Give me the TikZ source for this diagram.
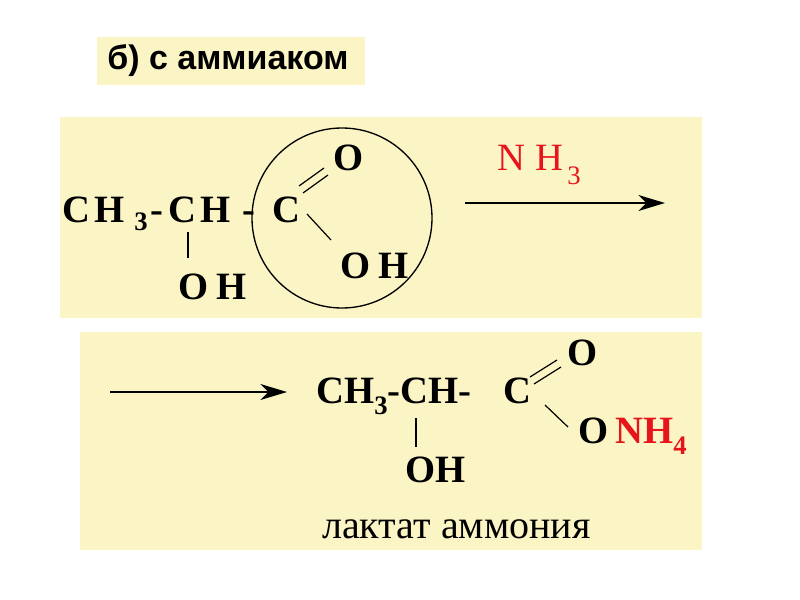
\documentclass[tikz,border=0pt]{standalone}
\usepackage{fontspec}
\setmainfont{Liberation Serif}
\newfontfamily\arialb{Liberation Sans}
\usetikzlibrary{arrows.meta}
\definecolor{panel}{HTML}{FBF5C6}
\definecolor{chemred}{HTML}{E8141B}
\tikzset{
 px/.style={x=0.75pt,y=-0.75pt},
 pan/.style={fill=panel,draw=none},
 ch/.style={font=\fontsize{29}{29}\selectfont\bfseries,inner sep=0,anchor=base west},
 chs/.style={font=\fontsize{20}{20}\selectfont\bfseries,inner sep=0,anchor=base west},
 bond/.style={line width=0.9pt},
 arr/.style={line width=1.5pt,-{Stealth[length=20pt,width=12pt,inset=6pt]}}
}
\begin{document}
\begin{tikzpicture}[px]
\useasboundingbox (0,0) rectangle (800,600);
\fill[white] (0,0) rectangle (800,600);
\node[pan,minimum width=268*0.75pt,minimum height=48*0.75pt,anchor=north west,inner sep=0] (title) at (97,37) {};
\node[font=\arialb\fontsize{25.5}{25.5}\selectfont\bfseries,anchor=west,inner sep=0] (tt) at (107,61) {б) с аммиаком};
\fill[panel] (60,117) rectangle (702,318);
\fill[panel] (80,332) rectangle (702,550);
% panel 1
\node[ch] (c1) at (62,222) {C};
\node[ch] (h1) at (94,222) {H};
\node[chs] (s1) at (134,230) {3};
\node[ch] (d1) at (150,222) {-};
\node[ch] (c2) at (168,222) {C};
\node[ch] (h2) at (200,222) {H};
\node[ch] (d2) at (242,222) {-};
\node[ch] (c3) at (272,222) {C};
\node[ch] (o1) at (333,170) {O};
\node[ch] (o2) at (340,278) {O};
\node[ch] (h3) at (378,278) {H};
\node[ch] (o3) at (178,299) {O};
\node[ch] (h4) at (216,299) {H};
\coordinate (v1a) at (188,232); \coordinate (v1b) at (188,258);
\draw[bond] (v1a) -- (v1b);
\draw[bond] (299,186) -- (324,168);
\draw[bond] (303,193) -- (328,175);
\draw[bond] (307,214) -- (331,240);
\draw[line width=1pt] (342,218) circle[radius=90*0.75pt];
\node[ch,text=chemred,font=\fontsize{29}{29}\selectfont] (n1) at (497,170) {N};
\node[ch,text=chemred,font=\fontsize{29}{29}\selectfont] (n2) at (535,170) {H};
\node[chs,text=chemred,font=\fontsize{20}{20}\selectfont] (n3) at (567,184) {3};
\coordinate (a1s) at (465,203); \coordinate (a1e) at (665,203);
\draw[arr] (a1s) -- (a1e);
% panel 2
\coordinate (a2s) at (110,392); \coordinate (a2e) at (287,392);
\draw[arr] (a2s) -- (a2e);
\node[ch] (f1) at (316,403) {CH\raisebox{-0.3em}{\fontsize{20}{20}\selectfont 3}-CH-};
\node[ch] (f2) at (503,403) {C};
\node[ch] (f3) at (567,365) {O};
\node[ch] (f4) at (578,443) {O};
\node[ch,text=chemred] (f5) at (615,443) {NH\raisebox{-0.3em}{\fontsize{20}{20}\selectfont 4}};
\node[ch] (f6) at (405,482) {OH};
\draw[bond] (416,418) -- (416,447);
\draw[bond] (530,377) -- (557,360);
\draw[bond] (534,384) -- (561,367);
\draw[bond] (545,405) -- (568,427);
\node[font=\fontsize{30}{30}\selectfont,inner sep=0,anchor=base west] (lab) at (322,538) {лактат аммония};
\end{tikzpicture}
\end{document}
